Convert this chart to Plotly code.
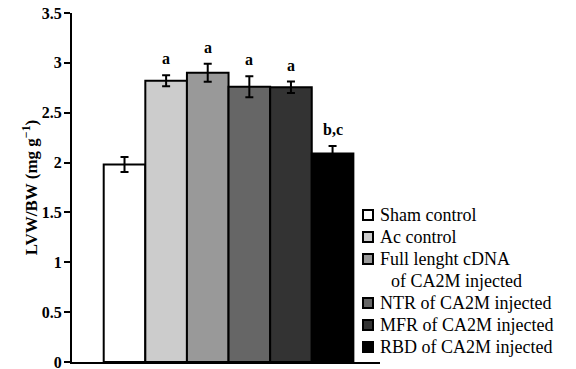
import plotly.graph_objects as go

categories = ["Sham control", "Ac control", "Full lenght cDNA", "NTR of CA2M injected",
              "MFR of CA2M injected", "RBD of CA2M injected"]
legend_extra = {2: "of CA2M injected"}
values = [1.98, 2.82, 2.90, 2.76, 2.755, 2.09]
errors = [0.075, 0.055, 0.09, 0.105, 0.058, 0.077]
sig_labels = ["", "a", "a", "a", "a", "b,c"]
colors = ["#ffffff", "#cccccc", "#999999", "#666666", "#333333", "#000000"]
ytick_vals = [0, 0.5, 1, 1.5, 2, 2.5, 3, 3.5]
ytick_text = ["0", "0.5", "1", "1.5", "2", "2.5", "3", "3.5"]

SERIF = "Liberation Serif"
W, H = 576, 369
ML, MR, MT, MB = 72, 196, 13, 7
PW, PH = W - ML - MR, H - MT - MB


def px_x(p):
    return (p - ML) / PW


def px_y(p):
    return (H - MB - p) / PH


fig = go.Figure()
for i, (cat, v, e, c) in enumerate(zip(categories, values, errors, colors)):
    fig.add_trace(go.Bar(
        x=[i], y=[v], name=cat, width=1, showlegend=False,
        marker=dict(color=c, line=dict(color="black", width=2)),
        error_y=dict(type="data", array=[e], visible=True, color="black", thickness=2, width=4),
    ))
    if sig_labels[i]:
        fig.add_annotation(x=i, y=v + e, text="<b>" + sig_labels[i] + "</b>", showarrow=False,
                           yanchor="bottom", yshift=6,
                           font=dict(family=SERIF, size=16, color="black"))

# legend (drawn as text + swatches, 22 px line pitch like the reference)
line_y = 215
for i, (cat, c) in enumerate(zip(categories, colors)):
    fig.add_shape(type="rect", xref="paper", yref="paper",
                  x0=px_x(363), x1=px_x(373), y0=px_y(line_y + 5), y1=px_y(line_y - 5),
                  fillcolor=c, line=dict(color="black", width=2), layer="above")
    fig.add_annotation(xref="paper", yref="paper", x=px_x(378), y=px_y(line_y),
                       xanchor="left", yanchor="middle", text=cat, showarrow=False,
                       font=dict(family=SERIF, size=18, color="black"))
    line_y += 22
    if i in legend_extra:
        fig.add_annotation(xref="paper", yref="paper", x=px_x(389), y=px_y(line_y),
                           xanchor="left", yanchor="middle", text=legend_extra[i],
                           showarrow=False, font=dict(family=SERIF, size=18, color="black"))
        line_y += 22

fig.update_layout(
    width=W, height=H,
    margin=dict(l=ML, r=MR, t=MT, b=MB, autoexpand=False),
    paper_bgcolor="white", plot_bgcolor="white",
    barmode="overlay", showlegend=False,
    font=dict(family=SERIF, color="black"),
    xaxis=dict(range=[-1.262, 6.14], showticklabels=False, ticks="",
               showline=True, linecolor="black", linewidth=2, layer="above traces",
               showgrid=False, zeroline=False, fixedrange=True),
    yaxis=dict(range=[0, 3.5], tickvals=ytick_vals,
               ticktext=["<b>" + t + "</b>" for t in ytick_text],
               ticks="outside", ticklen=6, tickwidth=2, tickcolor="black",
               ticklabelstandoff=-1, ticklabeloverflow="allow",
               showline=True, linecolor="black", linewidth=2,
               showgrid=False, zeroline=False,
               tickfont=dict(family=SERIF, size=16, color="black"),
               title=dict(text="<b>LVW/BW (mg g<sup>\u22121</sup>)</b>",
                          font=dict(family=SERIF, size=17, color="black"),
                          standoff=0)),
)

fig.write_html(
    "out.html",
    config={"displayModeBar": False},
    post_script=("document.body.style.margin='0';"
                 "document.body.style.overflow='hidden';"
                 "document.documentElement.style.overflow='hidden';"),
)
